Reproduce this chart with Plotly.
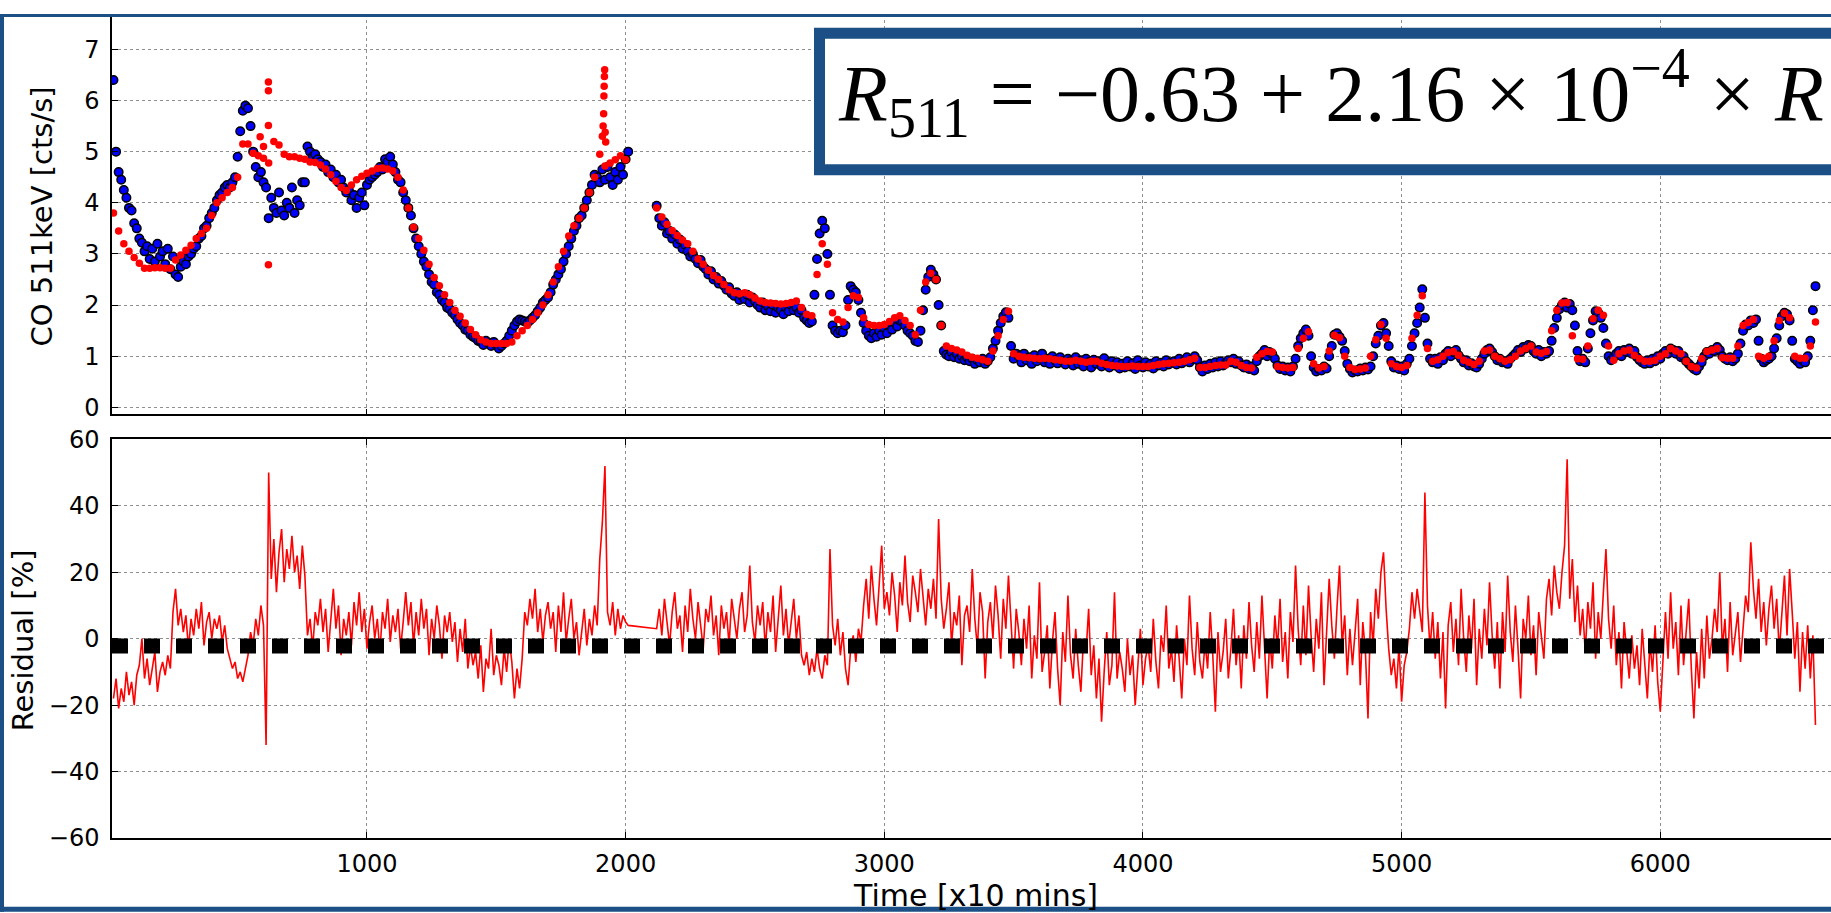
import plotly.graph_objects as go

# ------------------------------------------------------------------
# DATA
# time axis in units of [x10 mins]
# ------------------------------------------------------------------
obs_start_a, obs_start_b, obs_step = 20, 2120, 10
mod_start_a, mod_start_b, mod_step = 20, 2120, 20

# observed CO 511 keV rate [cts/s] (blue points), first orbit block
obs_a = [
    6.4, 5.0, 4.6, 4.45, 4.25, 4.1, 3.9, 3.85, 3.6, 3.5, 3.3, 3.22, 3.05, 3.15, 2.9, 3.1, 2.85, 3.2, 2.95, 3.05,
    2.8, 3.1, 2.7, 2.95, 2.6, 2.55, 2.75, 2.85, 2.8, 2.95, 3.0, 3.1, 3.15, 3.3, 3.35, 3.5, 3.55, 3.7, 3.8, 3.9,
    4.05, 4.15, 4.2, 4.3, 4.35, 4.3, 4.4, 4.5, 4.9, 5.4, 5.8, 5.9, 5.85, 5.5, 5.0, 4.7, 4.5, 4.6, 4.4, 4.3,
    3.7, 4.1, 3.9, 3.8, 4.2, 3.85, 3.75, 4.0, 3.9, 4.3, 3.8, 4.05, 3.95, 4.4, 4.4, 5.1, 5.0, 4.9, 4.95, 4.85,
    4.8, 4.7, 4.75, 4.6, 4.65, 4.5, 4.55, 4.4, 4.45, 4.3, 4.2, 4.25, 4.05, 4.15, 3.9, 4.1, 4.2, 3.95, 4.35, 4.45,
    4.5, 4.55, 4.6, 4.7, 4.65, 4.85, 4.8, 4.9, 4.75, 4.6, 4.45, 4.4, 4.2, 4.05, 3.9, 3.75, 3.5, 3.3, 3.15, 3.0,
    2.85, 2.75, 2.6, 2.45, 2.4, 2.25, 2.2, 2.1, 2.05, 1.95, 1.92, 1.85, 1.8, 1.72, 1.65, 1.6, 1.52, 1.5, 1.42, 1.38,
    1.35, 1.3, 1.28, 1.22, 1.3, 1.25, 1.2, 1.28, 1.22, 1.15, 1.2, 1.25, 1.3, 1.4, 1.5, 1.6, 1.68, 1.72, 1.7, 1.68,
    1.65, 1.7, 1.75, 1.8, 1.88, 1.95, 2.05, 2.1, 2.15, 2.25, 2.4, 2.5, 2.6, 2.7, 2.85, 3.0, 3.15, 3.3, 3.45, 3.55,
    3.7, 3.75, 3.9, 4.05, 4.2, 4.35, 4.55, 4.5, 4.4, 4.65, 4.45, 4.7, 4.5, 4.35, 4.6, 4.45, 4.7, 4.55, 4.85, 5.0,
]
# observed rate, second block (after the data gap)
obs_b = [
    3.94, 3.7, 3.55, 3.62, 3.4, 3.45, 3.3, 3.38, 3.2, 3.28, 3.1, 3.18, 3.05, 2.95, 3.0, 2.9, 2.82, 2.88, 2.75, 2.7,
    2.6, 2.66, 2.5, 2.55, 2.42, 2.47, 2.38, 2.3, 2.35, 2.22, 2.18, 2.25, 2.1, 2.18, 2.12, 2.2, 2.05, 2.15, 2.08, 2.0,
    1.95, 2.05, 1.9, 1.98, 1.88, 2.0, 1.85, 1.95, 1.9, 1.82, 1.95, 1.88, 2.0, 1.9, 1.95, 1.85, 1.9, 1.75, 1.7, 1.65,
    1.68, 2.2, 2.9, 3.4, 3.65, 3.5, 3.0, 2.2, 1.6, 1.5, 1.45, 1.5, 1.47, 1.6, 2.1, 2.37, 2.3, 2.25, 2.1, 1.85,
    1.65, 1.5, 1.4, 1.35, 1.45, 1.38, 1.5, 1.42, 1.55, 1.45, 1.6, 1.52, 1.65, 1.58, 1.7, 1.67, 1.6, 1.5, 1.45, 1.4,
    1.3, 1.28, 1.5, 1.9, 2.3, 2.55, 2.69, 2.6, 2.5, 2.0, 1.6, 1.1, 1.03, 1.0, 1.08, 0.98, 1.05, 0.95, 1.0, 0.92,
    0.98, 0.9, 0.95, 0.85, 0.92, 0.88, 0.95, 0.85, 0.9, 0.98, 1.15, 1.3, 1.5, 1.65, 1.78, 1.86, 1.75, 1.2, 0.95, 1.05,
    1.0, 0.88, 1.05, 0.92, 0.98, 0.85, 1.02, 0.9, 0.96, 1.05, 0.88, 0.95, 0.85, 1.0, 0.92, 0.86, 0.98, 0.9, 0.84, 0.95,
    0.9, 0.82, 0.98, 0.85, 0.92, 0.8, 0.95, 0.88, 0.78, 0.93, 0.85, 0.9, 0.8, 0.96, 0.84, 0.78, 0.9, 0.82, 0.88, 0.76,
    0.85, 0.78, 0.9, 0.8, 0.86, 0.75, 0.92, 0.82, 0.78, 0.88, 0.8, 0.85, 0.76, 0.9, 0.82, 0.87, 0.8, 0.92, 0.84, 0.88,
    0.9, 0.84, 0.95, 0.86, 0.92, 0.98, 0.88, 0.95, 1.0, 0.92, 0.78, 0.7, 0.82, 0.75, 0.85, 0.78, 0.88, 0.8, 0.9, 0.82,
    0.86, 0.92, 0.88, 0.95, 0.85, 0.9, 0.82, 0.78, 0.84, 0.75, 0.8, 0.72, 0.9, 1.0, 1.05, 1.12, 1.0, 1.08, 1.04, 0.95,
    0.82, 0.75, 0.8, 0.72, 0.78, 0.7, 0.8, 0.95, 1.2, 1.35, 1.45, 1.52, 1.4, 1.0, 0.78, 0.7, 0.75, 0.72, 0.8, 0.76,
    1.0, 1.2, 1.42, 1.45, 1.38, 1.3, 1.1, 0.85, 0.75, 0.68, 0.72, 0.7, 0.76, 0.72, 0.78, 0.74, 0.8, 1.0, 1.25, 1.4,
    1.6, 1.65, 1.45, 1.2, 0.9, 0.78, 0.82, 0.75, 0.8, 0.72, 0.85, 0.95, 1.2, 1.45, 1.65, 1.95, 2.31, 1.75, 1.25, 0.95,
    0.88, 0.95, 0.85, 0.98, 0.92, 1.05, 1.1, 1.0, 1.08, 1.12, 1.02, 0.95, 0.88, 0.92, 0.82, 0.86, 0.8, 0.78, 0.85, 0.95,
    1.05, 1.12, 1.15, 1.08, 1.0, 0.92, 0.95, 0.88, 0.9, 0.85, 0.95, 1.0, 1.05, 1.12, 1.08, 1.18, 1.15, 1.22, 1.2, 1.1,
    1.05, 1.12, 1.0, 1.08, 1.05, 1.1, 1.3, 1.55, 1.75, 1.92, 2.0, 2.05, 1.95, 2.02, 1.9, 1.6, 1.1, 0.9, 0.95, 0.88,
    1.15, 1.45, 1.7, 1.88, 1.85, 1.75, 1.55, 1.25, 1.0, 0.92, 0.98, 1.05, 1.1, 1.0, 1.12, 1.08, 1.15, 1.05, 1.1, 0.98,
    0.92, 0.88, 0.85, 0.92, 0.86, 0.95, 0.9, 1.0, 0.95, 1.05, 1.1, 1.05, 1.15, 1.12, 1.05, 1.1, 0.98, 1.0, 0.9, 0.85,
    0.8, 0.75, 0.72, 0.8, 0.88, 1.0, 1.08, 1.05, 1.12, 1.1, 1.18, 1.12, 1.0, 0.95, 0.92, 0.98, 0.9, 0.95, 1.05, 1.25,
    1.5, 1.62, 1.6, 1.7, 1.65, 1.72, 1.3, 0.95, 0.88, 0.92, 0.95, 1.0, 1.15, 1.35, 1.6, 1.78, 1.85, 1.82, 1.7, 1.3,
    0.95, 0.9, 0.85, 0.92, 0.88, 1.0, 1.3, 1.9, 2.37,
]
# model rate (red points)
mod_a = [
    3.8, 3.45, 3.2, 3.05, 2.93, 2.82, 2.72, 2.72, 2.73, 2.73,
    2.72, 2.72, 2.88, 2.98, 3.07, 3.17, 3.3, 3.4, 3.5, 3.75,
    4.0, 4.1, 4.2, 4.3, 4.5, 5.15, 5.15, 4.97, 4.92, 4.87,
    4.78, 5.2, 5.13, 4.95, 4.9, 4.9, 4.87, 4.85, 4.8, 4.79,
    4.74, 4.66, 4.55, 4.42, 4.3, 4.24, 4.35, 4.45, 4.52, 4.58,
    4.62, 4.67, 4.68, 4.66, 4.62, 4.5, 4.25, 3.9, 3.52, 3.3,
    3.07, 2.8, 2.54, 2.38, 2.2, 2.05, 1.9, 1.78, 1.65, 1.52,
    1.42, 1.32, 1.28, 1.25, 1.25, 1.25, 1.25, 1.28, 1.4, 1.5,
    1.6, 1.72, 1.85, 2.0, 2.2, 2.45, 2.75, 3.05, 3.35, 3.55,
    3.7, 3.9, 4.2, 4.5, 4.95, 4.72, 4.78, 4.84, 4.92, 4.84,
]
mod_b = [
    3.9, 3.72, 3.58, 3.46, 3.36, 3.27, 3.2, 3.05, 2.9, 2.8,
    2.68, 2.58, 2.5, 2.4, 2.3, 2.24, 2.22, 2.24, 2.2, 2.14,
    2.08, 2.05, 2.04, 2.03, 2.02, 2.03, 2.05, 2.08, 1.95, 1.82,
    1.79, 2.6, 3.2, 2.8, 1.85, 1.72, 1.67, 1.95, 2.18, 2.15,
    1.75, 1.62, 1.6, 1.6, 1.62, 1.68, 1.75, 1.79, 1.7, 1.6,
    1.42, 1.9, 2.45, 2.62, 2.5, 1.6, 1.2, 1.15, 1.12, 1.08,
    1.02, 0.98, 0.96, 0.93, 0.9, 1.1, 1.4, 1.72, 1.88, 1.05,
    1.0, 0.98, 0.97, 0.96, 0.95, 0.96, 0.95, 0.93, 0.92, 0.9,
    0.9, 0.92, 0.9, 0.88, 0.9, 0.9, 0.86, 0.84, 0.82, 0.81,
    0.8, 0.8, 0.81, 0.8, 0.8, 0.8, 0.82, 0.84, 0.85, 0.86,
    0.87, 0.88, 0.9, 0.93, 0.96, 0.78, 0.78, 0.8, 0.82, 0.83,
    0.83, 0.9, 0.88, 0.82, 0.78, 0.77, 0.98, 1.05, 1.09, 1.08,
    0.8, 0.78, 0.77, 0.78, 1.15, 1.35, 1.48, 0.85, 0.77, 0.8,
    1.1, 1.41, 1.36, 1.0, 0.78, 0.74, 0.75, 0.77, 1.0, 1.32,
    1.62, 1.35, 0.85, 0.8, 0.78, 0.82, 1.35, 1.8, 2.18, 1.15,
    0.9, 0.93, 1.0, 1.07, 1.09, 1.02, 0.92, 0.88, 0.84, 0.9,
    1.1, 1.12, 1.0, 0.95, 0.9, 0.93, 1.0, 1.1, 1.15, 1.2,
    1.08, 1.06, 1.09, 1.5, 1.9, 2.04, 2.05, 1.4, 0.95, 0.94,
    1.2, 1.73, 1.9, 1.8, 1.2, 0.92, 1.05, 1.1, 1.12, 1.02,
    0.95, 0.9, 0.9, 0.92, 1.0, 1.05, 1.15, 1.1, 1.05, 0.9,
    0.8, 0.77, 0.95, 1.09, 1.12, 1.15, 0.97, 0.96, 0.96, 1.2,
    1.6, 1.66, 1.72, 1.0, 0.96, 1.0, 1.3, 1.7, 1.84, 1.75,
    1.0, 0.96, 0.96, 1.2, 1.67,
]
# isolated model outliers
mod_out_t = [587, 600, 619, 619, 619, 619, 1910, 1913, 1915, 1916, 1917, 1918, 1919, 1921, 1923]
mod_out_v = [5.29, 5.1, 6.36, 6.19, 5.51, 2.79, 5.3, 5.5, 5.74, 6.09, 6.28, 6.47, 6.6, 5.38, 5.19]

# residual [%] (same sampling as the observed points)
res_a = [
    -18, -12, -21, -15, -19, -10, -17, -13, -20, -11,
    -8, 0, -12, -6, -14, -9, -4, -16, -10, -7,
    -11, -5, -9, 8, 15, 4, 9, 2, 7, -3,
    6, 1, 9, 3, 11, -2, 5, 8, 0, 6,
    3, 7, -1, 4, -3, -6, -9, -7, -12, -10,
    -13, -9, -5, 2, -2, 6, 1, 10, 4, -32,
    50, 18, 30, 14, 26, 33, 17, 27, 21, 31,
    20, 25, 15, 28, 19, 1, 6, -3, 8, 4,
    12, 2, 9, -4, 7, 15, 3, 10, -5, 6,
    1, 8, -2, 11, 4, 14, 2, 9, -3, 5,
    10, 0, 6, -4, 8, 3, 12, -1, 7, 2,
    9, -3, 5, 14, 4, 11, -2, 8, 1, 12,
    3, 9, -5, 6, 0, 10, 4, -6, 7, 2,
    8, -1, 5, -7, 3, -4, 6, -9, -2, -8,
    -4, -12, -2, -16, -6, -9, 3, -11, -5, -8,
    -14, -3, -10, 0, -7, -18, -9, -15, -6, 8,
    4, 12, 6, 15, 2, 9, -1, 7, 11, 3,
    8, -4, 10, 2, 14, -1, 6, 12, 0, 5,
    -5, 3, 9, -2, 6, 1, 10, 4, 24, 35,
    52, 8, 4, 11, 1, 9, 3, 7, 5, 4,
]
res_b = [
    3, 9, 1, 12, 5, -2, 8, 14, 3, 7,
    -4, 10, 2, 15, 6, 0, 11, 4, -3, 9,
    5, 13, 1, 7, -5, 10, 3, 8, -2, 12,
    6, 0, 9, 14, 2, 7, 22, 5, -1, 10,
    4, 11, -3, 8, 2, 13, -4, 6, 16, 1,
    9, -2, 5, 12, 0, 7, -5, -8, -4, -11,
    -6, -10, -3, -9, -12, -5, -8, 27, 4, -2,
    6, -5, 2, -9, -14, -3, 1, -7, 3, -1,
    10, 18, 6, 22, 12, 4, 16, 28, 9, 14,
    7, 20, 13, 2, 17, 10, 25, 11, 5, 19,
    14, 8, 21, 12, 4, 15, 9, 18, 6, 36,
    12, 3, 9, 17, -2, 8, 4, 13, -8, 7,
    10, 2, 21, 6, -3, 14, 8, -12, 5, 11,
    0, 16, 7, -6, 12, 3, 19, 5, -9, 9,
    2, -8, 6, -3, 10, -12, 1, -6, 17, -10,
    -4, 4, -15, -1, 8, -9, -20, 2, -7, 13,
    -5, -12, 3, -8, -16, 0, -4, 9, -11, -2,
    -18, -6, -25, -10, 2, -14, -8, 14, -12, -4,
    -9, -16, 0, -11, -5, -20, -8, 3, -14, -6,
    -2, -10, 6, -7, -15, 1, -4, 10, -9, -3,
    -13, 4, -6, -18, 0, -8, 13, -3, -11, 5,
    -7, -12, -1, -9, 8, -5, -22, 2, -10, -4,
    6, -12, -3, 9, -8, 1, -15, 4, -6, 11,
    -2, -10, 5, -6, 13, -4, -18, 0, -9, 7,
    -3, 12, -7, 2, -12, 8, -1, 22, 3, -8,
    10, -5, 16, 1, -10, 6, -3, 14, -14, 2,
    18, 4, -6, 9, 22, -2, 7, -11, 3, -8,
    2, 12, -14, 5, -4, -24, 8, -2, 15, 6,
    20, 26, 9, -3, -11, -6, -15, -2, -19, -8,
    -4, 3, 14, 6, 15, 9, 2, 44, 10, -3,
    8, -6, 5, -12, 2, -21, 4, 11, -4, 6,
    -8, 15, 0, -10, 7, -3, 12, -14, 3, -6,
    9, -2, 17, 1, -9, 5, -15, 8, -4, 19,
    2, -7, 10, -3, -18, 6, 0, 13, -5, 4,
    -11, 8, 1, -6, 12, 18, 7, 22, 14, 9,
    20, 28, 54, 12, 24, 5, 16, 1, 9, -4,
    11, 3, 17, -6, 8, 0, 14, 27, 6, -3,
    10, -8, 2, -15, 5, -4, -12, 1, -9, -2,
    -14, 3, -7, -18, -1, -10, 4, -13, -22, -5,
    8, -6, 14, -3, 5, -11, 10, -8, 2, 12,
    -9, -24, -4, -15, 3, -12, 7, -6, 0, 9,
    2, 20, -3, 6, -10, 11, -5, 1, 8, -7,
    4, 13, 8, 29, 15, 6, 18, 2, 11, -2,
    9, 16, 3, 12, -4, 7, 19, 1, 21, 8,
    -6, 5, -16, 2, -9, 4, -12, 1, -26,
]
mean_residual = -2.2

x_range = [14.3, 6660]
co_ticks = [0, 1, 2, 3, 4, 5, 6, 7]
res_ticks = [-60, -40, -20, 0, 20, 40, 60]
time_ticks = [1000, 2000, 3000, 4000, 5000, 6000]

# ------------------------------------------------------------------
def grid(start, step, n):
    return [start + step * i for i in range(n)]

t_obs = grid(obs_start_a, obs_step, len(obs_a)) + grid(obs_start_b, obs_step, len(obs_b))
t_mod = grid(mod_start_a, mod_step, len(mod_a)) + grid(mod_start_b, mod_step, len(mod_b))
t_res = grid(obs_start_a, obs_step, len(res_a)) + grid(obs_start_b, obs_step, len(res_b))

W, H = 1831, 913
ML, MB = 112, 75
PW, PH = W - ML, H - MB


def px_x(px):
    return (px - ML) / PW


def px_y(py):
    return (PH - py) / PH


BLUE_FRAME = "#1b4f85"
GRID = dict(showgrid=True, gridcolor="#8f8f8f", griddash="dot", gridwidth=1)
TICKFONT = dict(family="DejaVu Sans", size=24, color="black")

fig = go.Figure()

fig.add_trace(go.Scatter(
    x=t_obs, y=obs_a + obs_b, mode="markers", xaxis="x", yaxis="y",
    marker=dict(size=8.5, color="#0000ff", line=dict(color="black", width=1.5)),
    showlegend=False, hoverinfo="skip"))
fig.add_trace(go.Scatter(
    x=t_mod + mod_out_t, y=mod_a + mod_b + mod_out_v, mode="markers", xaxis="x", yaxis="y",
    marker=dict(size=7.5, color="#ff0000", line=dict(width=0)),
    showlegend=False, hoverinfo="skip"))
fig.add_trace(go.Scatter(
    x=t_res, y=res_a + res_b, mode="lines", xaxis="x2", yaxis="y2",
    line=dict(color="#ff0000", width=1.6),
    showlegend=False, hoverinfo="skip"))
fig.add_trace(go.Scatter(
    x=x_range, y=[mean_residual, mean_residual], mode="lines", xaxis="x2", yaxis="y2",
    line=dict(color="black", width=15, dash="16px,16px"),
    showlegend=False, hoverinfo="skip"))

axis_common = dict(showline=True, linecolor="black", linewidth=1.5, zeroline=False,
                   ticks="inside", ticklen=6, tickcolor="black", tickfont=TICKFONT, **GRID)

fig.update_layout(
    width=W, height=H,
    margin=dict(l=ML, r=0, t=0, b=MB),
    paper_bgcolor="white", plot_bgcolor="white",
    xaxis=dict(domain=[0, 1], anchor="y", range=x_range, tickvals=time_ticks,
               showticklabels=False, matches="x2", **axis_common),
    yaxis=dict(domain=[px_y(407.3), 1], anchor="x", range=[-0.14, 7.692], tickvals=co_ticks,
               ticklabelstandoff=6, **axis_common),
    xaxis2=dict(domain=[0, 1], anchor="y2", range=x_range, tickvals=time_ticks,
                mirror="ticks", ticklabelstandoff=3, **axis_common),
    yaxis2=dict(domain=[0, px_y(432.6)], anchor="x2", range=[-60, 60], tickvals=res_ticks,
                ticklabelstandoff=6, **axis_common),
    showlegend=False,
)

# equation box
fig.add_shape(type="rect", xref="paper", yref="paper",
              x0=px_x(819.5), x1=1.2, y0=px_y(158.5), y1=px_y(19.5),
              line=dict(color=BLUE_FRAME, width=11), fillcolor="white", layer="above")
sp = "\u2005"
eq = ("<i>R</i><sub>511</sub>" + sp + "=" + sp + "\u22120.63" + sp + "+" + sp + "2.16"
      + sp + "\u00d7" + sp + "10<sup>\u22124</sup>" + sp + "\u00d7" + sp + "<i>R</i>")
fig.add_annotation(text=eq, xref="paper", yref="paper", x=px_x(836), y=px_y(80),
                   xanchor="left", yanchor="middle", showarrow=False,
                   font=dict(family="Liberation Serif, DejaVu Serif, serif", size=80, color="black"))

# axis titles
fig.add_annotation(text="CO 511keV [cts/s]", xref="paper", yref="paper",
                   x=px_x(42), y=px_y(206), textangle=-90, showarrow=False,
                   xanchor="center", yanchor="middle",
                   font=dict(family="DejaVu Sans", size=29, color="black"))
fig.add_annotation(text="Residual [%]", xref="paper", yref="paper",
                   x=px_x(23), y=px_y(637), textangle=-90, showarrow=False,
                   xanchor="center", yanchor="middle",
                   font=dict(family="DejaVu Sans", size=29, color="black"))
fig.add_annotation(text="Time [x10 mins]", xref="paper", yref="paper",
                   x=px_x(975), y=px_y(896), showarrow=False,
                   xanchor="center", yanchor="middle",
                   font=dict(family="DejaVu Sans", size=30, color="black"))

# slide frame (left, top, bottom)
for (x0, x1, y0, y1) in [(0, 4, 0, H), (0, W, 0, 3), (0, W, 908, H)]:
    fig.add_shape(type="rect", xref="paper", yref="paper",
                  x0=px_x(x0), x1=px_x(x1), y0=px_y(y1), y1=px_y(y0),
                  line=dict(width=0), fillcolor=BLUE_FRAME, layer="above")

fig.write_html("out.html")
